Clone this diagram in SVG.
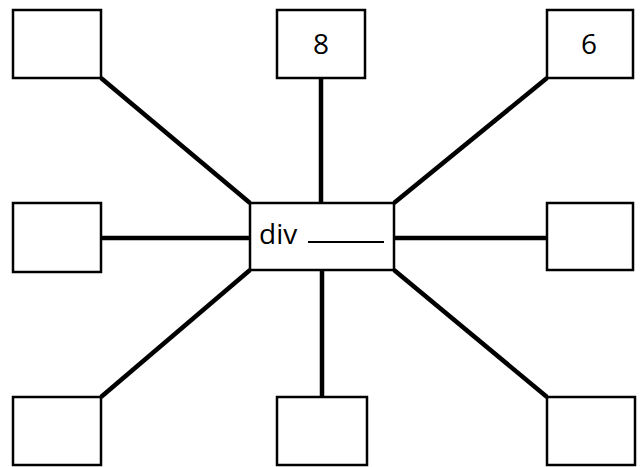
<svg xmlns="http://www.w3.org/2000/svg" width="642" height="467" viewBox="0 0 642 467">
<style>
.box{fill:#fff;stroke:#000;stroke-width:2.5}
.con{stroke:#000;stroke-width:4.5;fill:none;stroke-linecap:butt}
.t{font-family:"Open Sans","Liberation Sans",sans-serif;font-size:28px;fill:#000}
</style>
<rect width="642" height="467" fill="#fff"/>
<g id="connectors">
<line class="con" x1="101" y1="78" x2="250" y2="203"/>
<line class="con" x1="547" y1="78" x2="394" y2="203"/>
<line class="con" x1="101" y1="397" x2="250" y2="270"/>
<line class="con" x1="547" y1="397" x2="394" y2="270"/>
<line class="con" x1="321" y1="78" x2="321" y2="203"/>
<line class="con" x1="322" y1="270" x2="322" y2="397"/>
<line class="con" x1="101" y1="238" x2="250" y2="238"/>
<line class="con" x1="394" y1="238" x2="547" y2="238"/>
</g>
<g id="n-tl"><rect class="box" x="13" y="10" width="88" height="68"/></g>
<g id="n-tm"><rect class="box" x="277" y="10" width="88" height="68"/><text class="t" x="321" y="54" text-anchor="middle">8</text></g>
<g id="n-tr"><rect class="box" x="547" y="10" width="86" height="68"/><text class="t" x="589" y="54" text-anchor="middle">6</text></g>
<g id="n-ml"><rect class="box" x="13" y="203" width="88" height="69"/></g>
<g id="n-c"><rect class="box" x="250" y="203" width="144" height="67"/><text class="t" x="259" y="244">div</text><line x1="308" y1="242" x2="384" y2="242" stroke="#000" stroke-width="2"/></g>
<g id="n-mr"><rect class="box" x="547" y="203" width="86" height="67"/></g>
<g id="n-bl"><rect class="box" x="13" y="397" width="88" height="68"/></g>
<g id="n-bm"><rect class="box" x="277" y="397" width="90" height="68"/></g>
<g id="n-br"><rect class="box" x="547" y="397" width="88" height="68"/></g>
</svg>
